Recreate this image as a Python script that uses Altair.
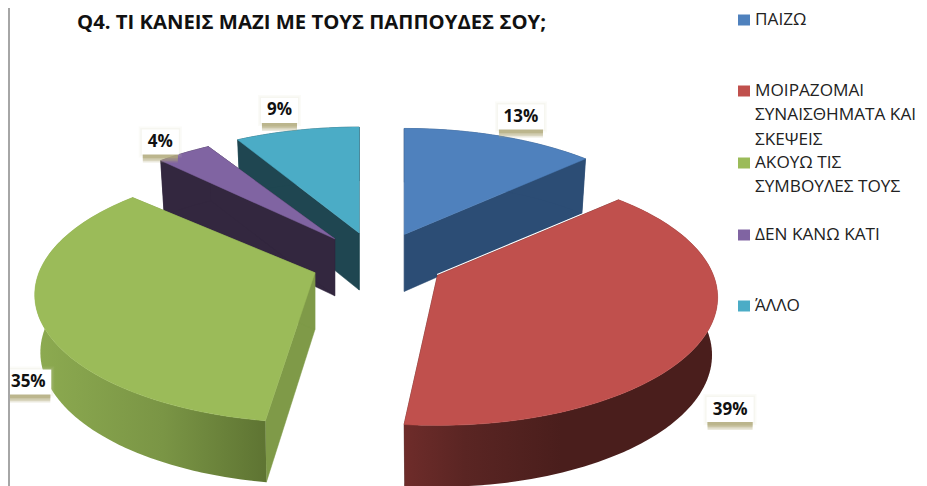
import math
import altair as alt
import pandas as pd

CATEGORIES = ["ΠΑΙΖΩ", "ΜΟΙΡΑΖΟΜΑΙ ΣΥΝΑΙΣΘΗΜΑΤΑ ΚΑΙ ΣΚΕΨΕΙΣ", "ΑΚΟΥΩ ΤΙΣ ΣΥΜΒΟΥΛΕΣ ΤΟΥΣ", "ΔΕΝ ΚΑΝΩ ΚΑΤΙ", "ΆΛΛΟ"]
VALUES = [13.1, 38.5, 35.2, 4.4, 8.8]
LABELS = ["13%", "39%", "35%", "4%", "9%"]
TOP_COLORS = ["#4F81BD", "#C0504D", "#9BBB59", "#8064A2", "#4BACC6"]
WALL_COLORS = ["#2C4D75", "#4A1E1C", "#7F9A48", "#33273F", "#1F4651"]
TITLE = "Q4. ΤΙ ΚΑΝΕΙΣ ΜΑΖΙ ΜΕ ΤΟΥΣ ΠΑΠΠΟΥΔΕΣ ΣΟΥ;"
LEGEND_LINES = [["ΠΑΙΖΩ"], ["ΜΟΙΡΑΖΟΜΑΙ", "ΣΥΝΑΙΣΘΗΜΑΤΑ ΚΑΙ", "ΣΚΕΨΕΙΣ"], ["ΑΚΟΥΩ ΤΙΣ", "ΣΥΜΒΟΥΛΕΣ ΤΟΥΣ"], ["ΔΕΝ ΚΑΝΩ ΚΑΤΙ"], ["ΆΛΛΟ"]]

# layout (chart pixels)
OX, OY = -8, -8
CX, CY = 377.5 + OX, 262 + OY
R, RK, P = 276, 124.2, 0.172
EXPLODE, EK = 67, 0.449
DEPTH, BOT_X, BOT_Y = 57, 0.98, 1.03
START_NUDGE = [0, 0, 2.8, 2.5, 1.3]
LABEL_OFF = [(21.3, -19.1), (25, 74.2), (-11.9, 62.2), (-19.1, -12.3), (-15.1, -20.1)]
BOX_W = [46, 47, 46, 37, 37]
BOX_H = 25
LEGEND_TOP = [20, 91, 163, 235, 306]
LINE_GAP = 24.3
# wall shading stops: horizontal position on the rim (-1..1) -> colour
GREEN_STOPS = [(-1.0, "#8CAA50"), (-0.55, "#7A9545"), (-0.19, "#5F7533")]
RED_STOPS = [(-0.12, "#6E2C2A"), (0.1, "#5A2523"), (0.45, "#4A1E1C"), (1.0, "#4A1E1C")]


def apex(mid):
    m = math.radians(mid)
    return CX + EXPLODE * math.sin(m), CY - EXPLODE * EK * math.cos(m)


def rim(th):
    t = math.radians(th)
    s = 1 / (1 + P * math.cos(t))
    return R * math.sin(t) * s, -RK * math.cos(t) * s


def feature(points, fill, stroke=None, width=0.5, opacity=1.0):
    pts = [list(p) for p in points]
    pts.append(pts[0])
    return {
        "type": "Feature",
        "geometry": {"type": "Polygon", "coordinates": [pts]},
        "properties": {"fill": fill, "stroke": stroke or fill, "sw": width, "op": opacity},
    }


def box(x0, y0, x1, y1, fill, opacity=1.0):
    return feature([(x0, y0), (x1, y0), (x1, y1), (x0, y1)], fill, "none", 0, opacity)


proj = dict(type="identity", scale=1, translate=[0, 0])


def shape_layer(features):
    return (
        alt.Chart(alt.Data(values=features))
        .mark_geoshape()
        .encode(
            fill=alt.Fill("properties.fill:N", scale=None, legend=None),
            stroke=alt.Stroke("properties.stroke:N", scale=None, legend=None),
            strokeWidth=alt.StrokeWidth("properties.sw:Q", scale=None, legend=None),
            opacity=alt.Opacity("properties.op:Q", scale=None, legend=None),
        )
        .project(**proj)
    )


def gradient_layer(strips, stops, ax):
    xs = [p[0] for s in strips for p in s]
    lo, hi = min(xs), max(xs)
    gstops = []
    for t, c in stops:
        off = (ax + t * R - lo) / (hi - lo)
        gstops.append(alt.GradientStop(offset=min(1.0, max(0.0, off)), color=c))
    grad = alt.LinearGradient(gradient="linear", x1=0, x2=1, y1=0, y2=0, stops=gstops)
    feat = {
        "type": "Feature",
        "geometry": {"type": "MultiPolygon", "coordinates": [[[list(p) for p in s] + [list(s[0])]] for s in strips]},
        "properties": {},
    }
    return alt.Chart(alt.Data(values=[feat])).mark_geoshape(fill=grad, stroke=None).project(**proj)


angles = []
acc = 0.0
total = sum(VALUES)
for i, v in enumerate(VALUES):
    a0 = acc * 360 / total
    acc += v
    angles.append((a0, acc * 360 / total))

layers = []
pending = []
for i in [4, 3, 0, 2, 1]:
    a0, a1 = angles[i]
    mid = (a0 + a1) / 2
    a0 += START_NUDGE[i]
    ax, ay = apex(mid)
    n = max(2, int((a1 - a0) / 1.5))
    ths = [a0 + (a1 - a0) * j / n for j in range(n + 1)]
    top = [(ax + rim(t)[0], ay + rim(t)[1]) for t in ths]
    bot = [(ax + rim(t)[0] * BOT_X, ay + DEPTH + rim(t)[1] * BOT_Y) for t in ths]
    bax, bay = ax, ay + DEPTH
    if i == 1:  # thin white seam where the red slice passes over the blue wall
        pending.append(feature([(ax, ay), top[0]], "none", "#FFFFFF", 3.0))
    # radial faces
    for k in (0, -1):
        pending.append(feature([(ax, ay), top[k], bot[k], (bax, bay)], WALL_COLORS[i]))
    if i in (1, 2):
        # overlapping quads so that the curved wall has no seams and keeps its silhouette
        strips = [[top[j], top[min(j + 2, n)], bot[min(j + 2, n)], bot[j]] for j in range(n)]
        layers.append(shape_layer(pending))
        pending = []
        layers.append(gradient_layer(strips, GREEN_STOPS if i == 2 else RED_STOPS, ax))
    else:
        pending.append(feature(top + bot[::-1], WALL_COLORS[i]))
    pending.append(feature([(ax, ay)] + top, TOP_COLORS[i]))

# data label boxes
texts = []
for i, lab in enumerate(LABELS):
    a0, a1 = angles[i]
    mid = (a0 + a1) / 2
    ax, ay = apex(mid)
    dx, dy = rim(mid)
    lx, ly = ax + dx + LABEL_OFF[i][0], ay + dy + LABEL_OFF[i][1]
    w = BOX_W[i] / 2
    h = BOX_H / 2
    # soft glow and the beige drop shadow under the box
    for grow, op in ((3, 0.10), (1.5, 0.12)):
        pending.append(box(lx - w - grow, ly - h - grow, lx + w + grow, ly + h + grow, "#D8D4BC", op))
    for low, op in ((8, 0.25), (6.5, 0.3), (5, 0.35), (3.5, 0.5)):
        pending.append(box(lx - w + 1, ly + h - 1, lx + w - 1, ly + h + low, "#B0A878", op))
    pending.append(box(lx - w, ly - h, lx + w, ly + h, "#FFFFFF"))
    texts.append({"t": lab, "x": lx, "y": ly})

# legend swatches
legend_rows = []
for i, lines in enumerate(LEGEND_LINES):
    y = LEGEND_TOP[i] + OY
    pending.append(box(738 + OX, y - 5.5, 750 + OX, y + 5.5, TOP_COLORS[i]))
    for j, line in enumerate(lines):
        legend_rows.append({"t": line, "x": 755 + OX, "y": y + j * LINE_GAP})

# frame line at the left edge
pending.append(box(0, 0, 2, 478, "#A6A6A6"))
layers.append(shape_layer(pending))


def text_layer(rows, **kw):
    return (
        alt.Chart(pd.DataFrame(rows))
        .mark_text(**kw)
        .encode(
            x=alt.X("x:Q", scale=None, axis=None),
            y=alt.Y("y:Q", scale=None, axis=None),
            text="t:N",
        )
    )


FONT = "Open Sans"
labels_layer = text_layer(texts, font=FONT, fontSize=17, fontWeight="bold", color="#111111", align="center", baseline="middle")
legend_layer = text_layer(legend_rows, font=FONT, fontSize=17.2, color="#222222", align="left", baseline="middle")
title_layer = text_layer([{"t": TITLE, "x": 77 + OX, "y": 23 + OY}], font=FONT, fontSize=20.3, fontWeight="bold", color="#111111", align="left", baseline="middle")

chart = (
    alt.layer(*layers, labels_layer, legend_layer, title_layer)
    .resolve_scale(x="independent", y="independent")
    .properties(width=911, height=478, padding=0, autosize=alt.AutoSizeParams(type="none"), background="#FFFFFF")
    .configure_view(stroke=None)
)
chart.save("out.html", embed_options={"renderer": "svg", "actions": False})
